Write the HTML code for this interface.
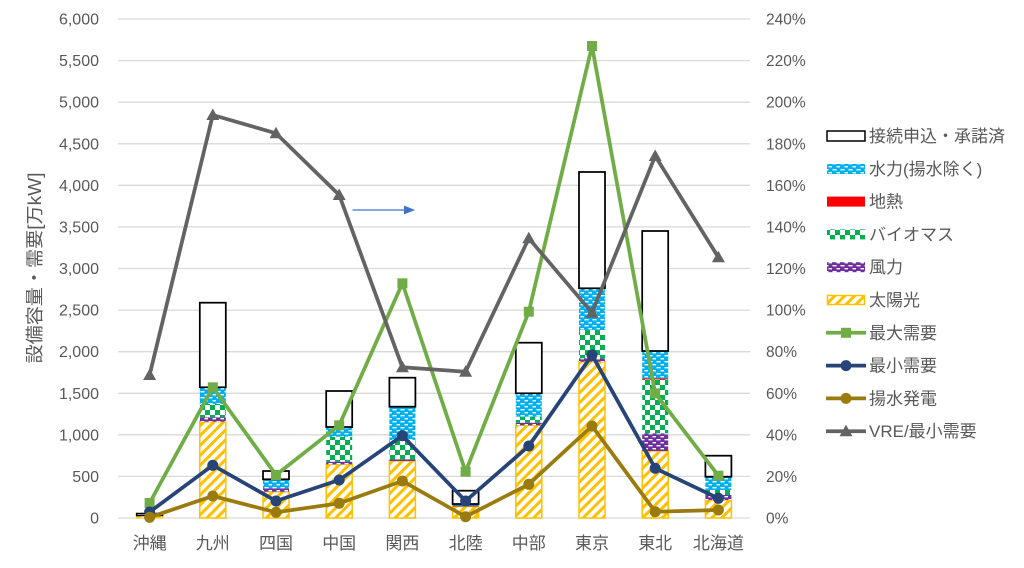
<!DOCTYPE html>
<html><head><meta charset="utf-8"><style>
html,body{margin:0;padding:0;background:#fff;}
svg{display:block;}
text{font-family:"Liberation Sans","Noto Sans CJK JP",sans-serif;fill:#595959;}
</style></head><body>
<svg width="1024" height="568" viewBox="0 0 1024 568" xmlns="http://www.w3.org/2000/svg">
<defs>
<pattern id="solar" patternUnits="userSpaceOnUse" width="7" height="7" patternTransform="rotate(45)">
<rect width="7" height="7" fill="#fff"/><rect width="3" height="7" fill="#FFC000"/></pattern>
<pattern id="hydro" patternUnits="userSpaceOnUse" width="8" height="6">
<rect width="8" height="6" fill="#00B0F0"/><rect x="0.5" y="1" width="4" height="1.4" fill="#fff"/><rect x="4.5" y="4" width="3.5" height="1.4" fill="#fff"/></pattern>
<pattern id="wind" patternUnits="userSpaceOnUse" width="8" height="6">
<rect width="8" height="6" fill="#7030A0"/><rect x="0.5" y="1" width="4" height="1.4" fill="#fff"/><rect x="4.5" y="4" width="3.5" height="1.4" fill="#fff"/></pattern>
<pattern id="bio" patternUnits="userSpaceOnUse" width="10" height="10">
<rect width="10" height="10" fill="#00B050"/><rect x="0" y="0" width="5" height="5" fill="#fff"/><rect x="5" y="5" width="5" height="5" fill="#fff"/></pattern>
<polygon id="tri" points="0,-6.5 -6.5,5 6.5,5"/>
</defs>

<!-- gridlines -->
<g stroke="#d9d9d9" stroke-width="1.3">
<line x1="118" x2="750" y1="19" y2="19"/>
<line x1="118" x2="750" y1="60.6" y2="60.6"/>
<line x1="118" x2="750" y1="102.2" y2="102.2"/>
<line x1="118" x2="750" y1="143.8" y2="143.8"/>
<line x1="118" x2="750" y1="185.3" y2="185.3"/>
<line x1="118" x2="750" y1="226.9" y2="226.9"/>
<line x1="118" x2="750" y1="268.5" y2="268.5"/>
<line x1="118" x2="750" y1="310.1" y2="310.1"/>
<line x1="118" x2="750" y1="351.7" y2="351.7"/>
<line x1="118" x2="750" y1="393.3" y2="393.3"/>
<line x1="118" x2="750" y1="434.8" y2="434.8"/>
<line x1="118" x2="750" y1="476.4" y2="476.4"/>
<line x1="118" x2="750" y1="518" y2="518"/>
</g>

<!-- left axis labels -->
<g font-size="16" text-anchor="end">
<text x="99" y="24.5">6,000</text>
<text x="99" y="66.1">5,500</text>
<text x="99" y="107.7">5,000</text>
<text x="99" y="149.3">4,500</text>
<text x="99" y="190.8">4,000</text>
<text x="99" y="232.4">3,500</text>
<text x="99" y="274">3,000</text>
<text x="99" y="315.6">2,500</text>
<text x="99" y="357.2">2,000</text>
<text x="99" y="398.8">1,500</text>
<text x="99" y="440.3">1,000</text>
<text x="99" y="481.9">500</text>
<text x="99" y="523.5">0</text>
</g>
<!-- right axis labels -->
<g font-size="15.5" text-anchor="start">
<text x="766" y="24.5">240%</text>
<text x="766" y="66.1">220%</text>
<text x="766" y="107.7">200%</text>
<text x="766" y="149.3">180%</text>
<text x="766" y="190.8">160%</text>
<text x="766" y="232.4">140%</text>
<text x="766" y="274">120%</text>
<text x="766" y="315.6">100%</text>
<text x="766" y="357.2">80%</text>
<text x="766" y="398.8">60%</text>
<text x="766" y="440.3">40%</text>
<text x="766" y="481.9">20%</text>
<text x="766" y="523.5">0%</text>
</g>

<!-- y axis title -->
<text font-size="18" text-anchor="middle" transform="translate(41,268) rotate(-90)" textLength="191" lengthAdjust="spacingAndGlyphs">設備容量・需要[万kW]</text>

<!-- category labels -->
<g font-size="17" text-anchor="middle">
<text x="149.6" y="549">沖縄</text>
<text x="212.8" y="549">九州</text>
<text x="276" y="549">四国</text>
<text x="339.2" y="549">中国</text>
<text x="402.4" y="549">関西</text>
<text x="465.6" y="549">北陸</text>
<text x="528.8" y="549">中部</text>
<text x="592" y="549">東京</text>
<text x="655.2" y="549">東北</text>
<text x="718.4" y="549">北海道</text>
</g>

<!-- bars -->
<g>
<!-- 沖縄 -->
<rect x="136.6" y="515.5" width="26" height="2.5" fill="url(#solar)" stroke="#FFC000" stroke-width="1"/>
<rect x="136.6" y="513.5" width="26" height="2" fill="#fff" stroke="#000" stroke-width="1.5"/>
<!-- 九州 -->
<rect x="199.8" y="421.7" width="26" height="96.3" fill="url(#solar)" stroke="#FFC000" stroke-width="1.5"/>
<rect x="199.8" y="417.3" width="26" height="4.4" fill="url(#wind)"/>
<rect x="199.8" y="404" width="26" height="13.3" fill="url(#bio)"/>
<rect x="199.8" y="387.3" width="26" height="16.7" fill="url(#hydro)"/>
<rect x="199.8" y="302.7" width="26" height="84.6" fill="#fff" stroke="#000" stroke-width="1.75"/>
<!-- 四国 -->
<rect x="263" y="491.7" width="26" height="26.3" fill="url(#solar)" stroke="#FFC000" stroke-width="1.5"/>
<rect x="263" y="488.3" width="26" height="3.4" fill="url(#wind)"/>
<rect x="263" y="479.3" width="26" height="9" fill="url(#hydro)"/>
<rect x="263" y="471" width="26" height="8.3" fill="#fff" stroke="#000" stroke-width="1.75"/>
<!-- 中国 -->
<rect x="326.2" y="464.3" width="26" height="53.7" fill="url(#solar)" stroke="#FFC000" stroke-width="1.5"/>
<rect x="326.2" y="461.7" width="26" height="2.6" fill="url(#wind)"/>
<rect x="326.2" y="436.7" width="26" height="25" fill="url(#bio)"/>
<rect x="326.2" y="427" width="26" height="9.7" fill="url(#hydro)"/>
<rect x="326.2" y="391" width="26" height="36" fill="#fff" stroke="#000" stroke-width="1.75"/>
<!-- 関西 -->
<rect x="389.4" y="461" width="26" height="57" fill="url(#solar)" stroke="#FFC000" stroke-width="1.5"/>
<rect x="389.4" y="459.3" width="26" height="1.7" fill="#7030A0"/>
<rect x="389.4" y="440" width="26" height="19.3" fill="url(#bio)"/>
<rect x="389.4" y="406.7" width="26" height="33.3" fill="url(#hydro)"/>
<rect x="389.4" y="377.7" width="26" height="29" fill="#fff" stroke="#000" stroke-width="1.75"/>
<!-- 北陸 -->
<rect x="452.6" y="506.5" width="26" height="11.5" fill="url(#solar)" stroke="#FFC000" stroke-width="1.5"/>
<rect x="452.6" y="505.5" width="26" height="1" fill="#7030A0"/>
<rect x="452.6" y="504" width="26" height="1.5" fill="#00B0F0"/>
<rect x="452.6" y="490.7" width="26" height="13.3" fill="#fff" stroke="#000" stroke-width="1.75"/>
<!-- 中部 -->
<rect x="515.8" y="425.3" width="26" height="92.7" fill="url(#solar)" stroke="#FFC000" stroke-width="1.5"/>
<rect x="515.8" y="422.7" width="26" height="2.6" fill="url(#wind)"/>
<rect x="515.8" y="416.7" width="26" height="6" fill="url(#bio)"/>
<rect x="515.8" y="393.3" width="26" height="23.4" fill="url(#hydro)"/>
<rect x="515.8" y="342.7" width="26" height="50.6" fill="#fff" stroke="#000" stroke-width="1.75"/>
<!-- 東京 -->
<rect x="579" y="361.7" width="26" height="156.3" fill="url(#solar)" stroke="#FFC000" stroke-width="1.5"/>
<rect x="579" y="358.3" width="26" height="3.4" fill="url(#wind)"/>
<rect x="579" y="330" width="26" height="28.3" fill="url(#bio)"/>
<rect x="579" y="288.3" width="26" height="41.7" fill="url(#hydro)"/>
<rect x="579" y="172" width="26" height="116.3" fill="#fff" stroke="#000" stroke-width="1.75"/>
<!-- 東北 -->
<rect x="642.2" y="451" width="26" height="67" fill="url(#solar)" stroke="#FFC000" stroke-width="1.5"/>
<rect x="642.2" y="433.3" width="26" height="17.7" fill="url(#wind)"/>
<rect x="642.2" y="379.3" width="26" height="54" fill="url(#bio)"/>
<rect x="642.2" y="378.3" width="26" height="1.2" fill="#FF0000"/>
<rect x="642.2" y="351" width="26" height="27.3" fill="url(#hydro)"/>
<rect x="642.2" y="231" width="26" height="120" fill="#fff" stroke="#000" stroke-width="1.75"/>
<!-- 北海道 -->
<rect x="705.4" y="500" width="26" height="18" fill="url(#solar)" stroke="#FFC000" stroke-width="1.5"/>
<rect x="705.4" y="495" width="26" height="5" fill="url(#wind)"/>
<rect x="705.4" y="490" width="26" height="5" fill="url(#bio)"/>
<rect x="705.4" y="476.7" width="26" height="13.3" fill="url(#hydro)"/>
<rect x="705.4" y="455.7" width="26" height="21" fill="#fff" stroke="#000" stroke-width="1.75"/>
</g>

<!-- green 最大需要 -->
<polyline fill="none" stroke="#70AD47" stroke-width="3.75" stroke-linejoin="round" points="149.6,503 212.8,387.3 276,475 339.2,425.3 402.4,283.3 465.6,471.7 528.8,311.7 592,46 655.2,393.3 718.4,475.7"/>
<g fill="#70AD47">
<rect x="144.6" y="498" width="10" height="10"/>
<rect x="207.8" y="382.3" width="10" height="10"/>
<rect x="271" y="470" width="10" height="10"/>
<rect x="334.2" y="420.3" width="10" height="10"/>
<rect x="397.4" y="278.3" width="10" height="10"/>
<rect x="460.6" y="466.7" width="10" height="10"/>
<rect x="523.8" y="306.7" width="10" height="10"/>
<rect x="587" y="41" width="10" height="10"/>
<rect x="650.2" y="388.3" width="10" height="10"/>
<rect x="713.4" y="470.7" width="10" height="10"/>
</g>

<!-- navy 最小需要 -->
<polyline fill="none" stroke="#264478" stroke-width="3.75" stroke-linejoin="round" points="149.6,512 212.8,465.3 276,501 339.2,480 402.4,435.7 465.6,501 528.8,446 592,355 655.2,468.3 718.4,498.3"/>
<g fill="#264478">
<circle cx="149.6" cy="512" r="5.5"/>
<circle cx="212.8" cy="465.3" r="5.5"/>
<circle cx="276" cy="501" r="5.5"/>
<circle cx="339.2" cy="480" r="5.5"/>
<circle cx="402.4" cy="435.7" r="5.5"/>
<circle cx="465.6" cy="501" r="5.5"/>
<circle cx="528.8" cy="446" r="5.5"/>
<circle cx="592" cy="355" r="5.5"/>
<circle cx="655.2" cy="468.3" r="5.5"/>
<circle cx="718.4" cy="498.3" r="5.5"/>
</g>

<!-- olive 揚水発電 -->
<polyline fill="none" stroke="#9A7B0E" stroke-width="3.75" stroke-linejoin="round" points="149.6,517.3 212.8,496 276,512.3 339.2,503.3 402.4,481 465.6,516.7 528.8,484.3 592,426 655.2,511.7 718.4,510"/>
<g fill="#9A7B0E">
<circle cx="149.6" cy="517.3" r="5.5"/>
<circle cx="212.8" cy="496" r="5.5"/>
<circle cx="276" cy="512.3" r="5.5"/>
<circle cx="339.2" cy="503.3" r="5.5"/>
<circle cx="402.4" cy="481" r="5.5"/>
<circle cx="465.6" cy="516.7" r="5.5"/>
<circle cx="528.8" cy="484.3" r="5.5"/>
<circle cx="592" cy="426" r="5.5"/>
<circle cx="655.2" cy="511.7" r="5.5"/>
<circle cx="718.4" cy="510" r="5.5"/>
</g>

<!-- gray VRE/最小需要 -->
<polyline fill="none" stroke="#636363" stroke-width="3.75" stroke-linejoin="round" points="149.6,375 212.8,115 276,133.3 339.2,195 402.4,367.3 465.6,371.7 528.8,238.3 592,312.7 655.2,156 718.4,257.3"/>
<g fill="#636363">
<use href="#tri" x="149.6" y="375"/>
<use href="#tri" x="212.8" y="115"/>
<use href="#tri" x="276" y="133.3"/>
<use href="#tri" x="339.2" y="195"/>
<use href="#tri" x="402.4" y="367.3"/>
<use href="#tri" x="465.6" y="371.7"/>
<use href="#tri" x="528.8" y="238.3"/>
<use href="#tri" x="592" y="312.7"/>
<use href="#tri" x="655.2" y="156"/>
<use href="#tri" x="718.4" y="257.3"/>
</g>

<!-- arrow -->
<line x1="352.5" y1="210" x2="406" y2="210" stroke="#4472C4" stroke-width="1.3"/>
<polygon points="404,205.5 415,210 404,214.5" fill="#4472C4"/>

<!-- legend -->
<g>
<rect x="827" y="131" width="38" height="10" fill="#fff" stroke="#000" stroke-width="1.5"/>
<rect x="827" y="164" width="38" height="10" fill="url(#hydro)"/>
<rect x="827" y="196.6" width="38" height="10" fill="#FF0000"/>
<rect x="827" y="229.4" width="38" height="10" fill="url(#bio)"/>
<rect x="827" y="262.2" width="38" height="10" fill="url(#wind)"/>
<rect x="827.5" y="295.5" width="37" height="9" fill="url(#solar)" stroke="#FFC000" stroke-width="1.5"/>
<line x1="826" x2="866" y1="332.8" y2="332.8" stroke="#70AD47" stroke-width="3.75"/>
<rect x="841" y="327.8" width="10" height="10" fill="#70AD47"/>
<line x1="826" x2="866" y1="365.6" y2="365.6" stroke="#264478" stroke-width="3.75"/>
<circle cx="846" cy="365.6" r="5.5" fill="#264478"/>
<line x1="826" x2="866" y1="398.4" y2="398.4" stroke="#9A7B0E" stroke-width="3.75"/>
<circle cx="846" cy="398.4" r="5.5" fill="#9A7B0E"/>
<line x1="826" x2="866" y1="431.2" y2="431.2" stroke="#636363" stroke-width="3.75"/>
<use href="#tri" x="846" y="431.2" fill="#636363"/>
</g>
<g font-size="17">
<text x="869" y="142">接続申込・承諾済</text>
<text x="869" y="174.8">水力(揚水除く)</text>
<text x="869" y="207.6">地熱</text>
<text x="869" y="240.4">バイオマス</text>
<text x="869" y="273.2">風力</text>
<text x="869" y="306">太陽光</text>
<text x="869" y="338.8">最大需要</text>
<text x="869" y="371.6">最小需要</text>
<text x="869" y="404.4">揚水発電</text>
<text x="869" y="437.2">VRE/最小需要</text>
</g>
</svg>
</body></html>
